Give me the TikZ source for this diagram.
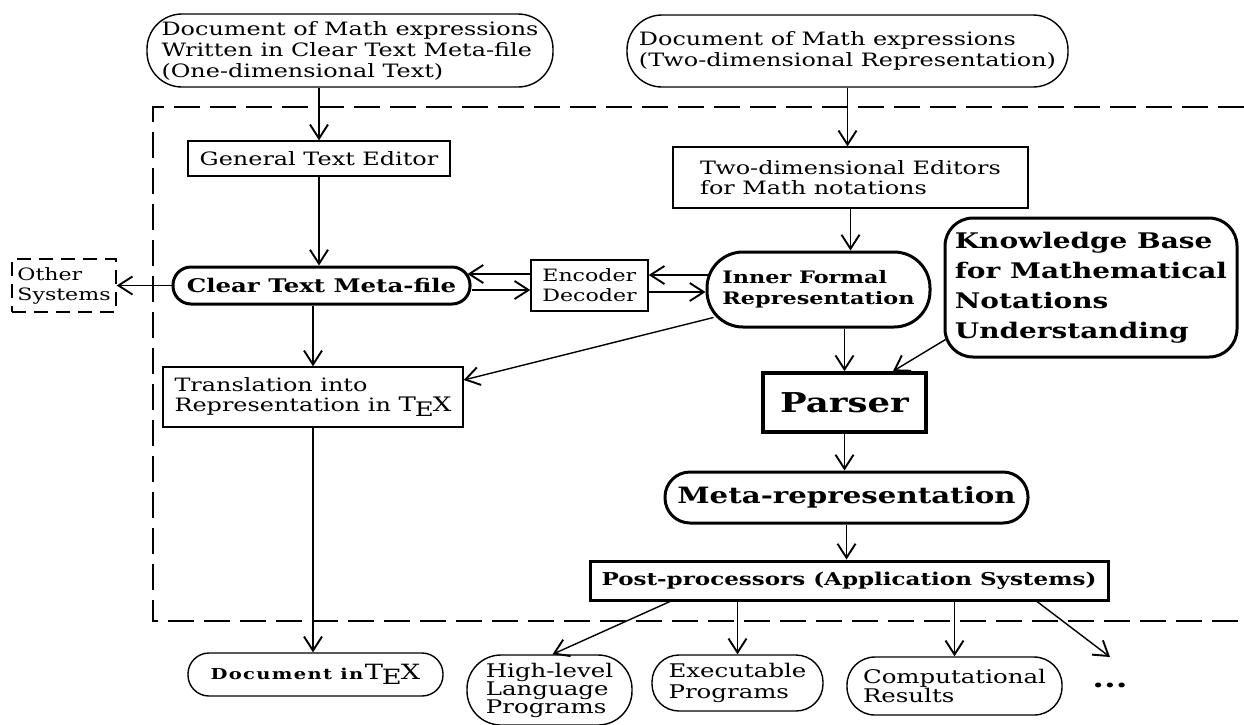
\documentclass[tikz,border=0pt]{standalone}
\usepackage{fontspec}
\setmainfont{DejaVu Serif}[FakeStretch=1.3]
\newfontfamily\spacedfont{DejaVu Serif}[FakeStretch=1.3, LetterSpace=9]
\usetikzlibrary{arrows.meta}
\newcommand{\TeXmark}{T\kern-0.06em\lower0.45ex\hbox{E}\kern-0.04emX}
\begin{document}
\begin{tikzpicture}[x=1pt,y=-1pt,
  box/.style={draw, line width=1.4pt, rectangle, inner sep=0pt, align=left},
  heavy/.style={box, line width=3pt},
  arr/.style={line width=1.4pt, -{Straight Barb[length=14pt,width=18pt,line width=1.9pt]}},
  frame/.style={line width=2.5pt, dash pattern=on 26pt off 10pt},
]
\useasboundingbox (0,0) rectangle (1244,724);

% frame (open on the right)
\draw[frame] (1244,107) -- (153,107) -- (153,621) -- (1244,621);

% nodes
\node[box, minimum width=406pt, minimum height=73pt, rounded corners=35pt,
  font=\fontsize{18.4}{21}\selectfont] (docA) at (350,50.5)
  {Document of Math expressions\\Written in Clear Text Meta-file\\(One-dimensional Text)};
\node[box, minimum width=441pt, minimum height=72pt, rounded corners=35pt,
  font=\fontsize{18.4}{21}\selectfont] (docB) at (847.5,51)
  {Document of Math expressions\\(Two-dimensional Representation)};
\node[box, minimum width=262pt, minimum height=35pt,
  font=\fontsize{18.4}{21}\selectfont] (gte) at (319,158.5)
  {General Text Editor};
\node[box, minimum width=355pt, minimum height=61pt,
  font=\fontsize{18.4}{20}\selectfont] (twod) at (850.5,177.5)
  {Two-dimensional Editors\\for Math notations};
\node[heavy, minimum width=297pt, minimum height=37pt, rounded corners=18pt,
  font=\fontsize{18.8}{21}\selectfont\bfseries] (ctm) at (321.5,285.5)
  {Clear Text Meta-file};
\node[box, dash pattern=on 14pt off 8pt, minimum width=104pt, minimum height=53pt,
  font=\fontsize{17}{20}\selectfont] (other) at (64,285.5)
  {Other\\Systems};
\node[box, minimum width=117pt, minimum height=51pt,
  font=\fontsize{17}{20}\selectfont] (enc) at (589.5,285.5)
  {Encoder\\Decoder};
\node[heavy, minimum width=223pt, minimum height=75pt, rounded corners=36pt,
  font=\fontsize{17.2}{21}\selectfont\bfseries] (inner) at (818.5,289.5)
  {Inner Formal\\Representation};
\node[heavy, minimum width=292pt, minimum height=139pt, rounded corners=28pt,
  font=\fontsize{21.5}{30}\selectfont\bfseries] (kb) at (1091,287.5)
  {Knowledge Base\\for Mathematical\\Notations\\Understanding};
\node[box, minimum width=300pt, minimum height=60pt,
  font=\fontsize{18.4}{20}\selectfont] (trans) at (313,397)
  {Translation into\\Representation in {\fontsize{20}{20}\selectfont\TeXmark}};
\node[box, line width=3.6pt, minimum width=163pt, minimum height=59pt,
  font=\fontsize{27.3}{30}\selectfont\bfseries] (parser) at (844.5,402.5)
  {Parser};
\node[heavy, minimum width=363pt, minimum height=51pt, rounded corners=25pt,
  font=\fontsize{22.5}{26}\selectfont\bfseries] (meta) at (846.5,497.5)
  {Meta-representation};
\node[heavy, minimum width=518pt, minimum height=39pt,
  font=\fontsize{17.7}{20}\selectfont\bfseries] (post) at (849,580.5)
  {Post-processors (Application Systems)};
\node[box, minimum width=255pt, minimum height=43pt, rounded corners=21pt] (doctex) at (315.5,674.5)
  {{\spacedfont\fontsize{15}{15}\selectfont\bfseries Document in}\,{\fontsize{21}{20}\selectfont\TeXmark}};
\node[box, minimum width=165pt, minimum height=70pt, rounded corners=34pt,
  font=\fontsize{18.8}{18}\selectfont] (hll) at (549.5,690)
  {High-level\\Language\\Programs};
\node[box, minimum width=171pt, minimum height=56pt, rounded corners=27pt,
  font=\fontsize{18.8}{21}\selectfont] (exe) at (737.5,683)
  {Executable\\Programs};
\node[box, minimum width=215pt, minimum height=58pt, rounded corners=28pt,
  font=\fontsize{18.8}{19}\selectfont] (comp) at (954.5,686)
  {Computational\\Results};
\node[inner sep=0pt, anchor=base] (etc) at (1110,687) {\fontsize{26}{26}\selectfont\bfseries ...};
\coordinate (etcEnd) at (1110,657);

% connectors
\draw[arr] (gte.north |- docA.south) -- (gte.north);
\draw[arr] (gte.south) -- (gte.south |- ctm.north);
\draw[arr] (trans.north |- ctm.south) -- (trans.north);
\draw[arr] (trans.south) -- (trans.south |- doctex.north);
\draw[arr] (ctm.west) -- (other.east);
\draw[arr] ([yshift=11.5pt]enc.west) -- ([xshift=-4pt,yshift=11.5pt]ctm.east);
\draw[arr] ([yshift=-4.5pt]ctm.east) -- ([yshift=-4.5pt]enc.west);
\draw[arr] ([xshift=3pt,yshift=14.5pt]inner.west) -- ([yshift=10.5pt]enc.east);
\draw[arr] ([yshift=-6.5pt]enc.east) -- ([yshift=-2.5pt]inner.west);
\draw[arr] (docB.south) -- (docB.south |- twod.north);
\draw[arr] (twod.south) -- (twod.south |- inner.north);
\draw[arr] ([xshift=8pt,yshift=11pt]inner.south west) -- ([yshift=17pt]trans.east);
\draw[arr] (parser.north |- inner.south) -- (parser.north);
\draw[arr] ([xshift=2pt,yshift=19pt]kb.south west) -- ([xshift=48.5pt]parser.north);
\draw[arr] (parser.south) -- (parser.south |- meta.north);
\draw[arr] (meta.south) -- (meta.south |- post.north);
\draw[arr] ([xshift=-179pt]post.south) -- ([xshift=3pt]hll.north);
\draw[arr] (exe.north |- post.south) -- (exe.north);
\draw[arr] (comp.north |- post.south) -- (comp.north);
\draw[arr] ([xshift=188pt]post.south) -- (etcEnd);
\end{tikzpicture}
\end{document}
